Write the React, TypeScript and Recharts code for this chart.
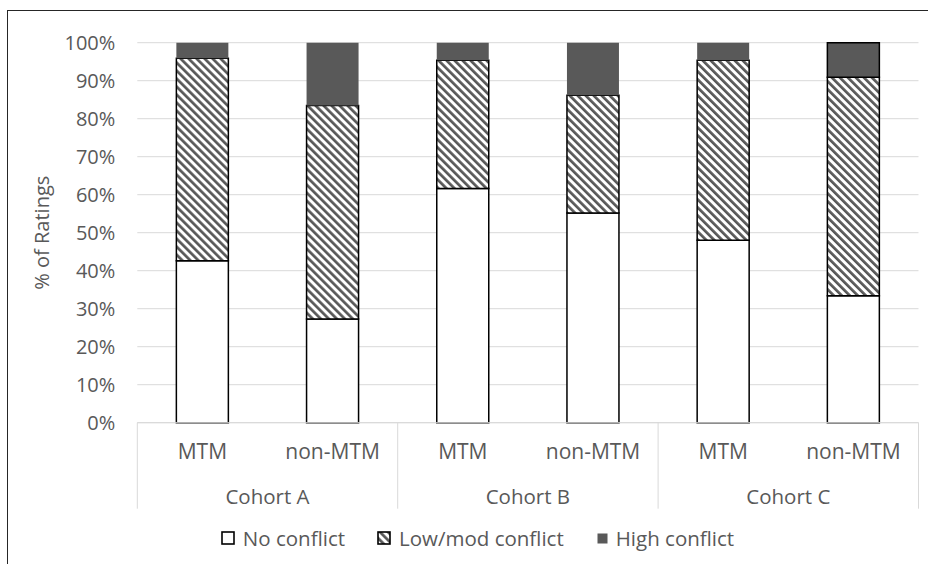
import { BarChart, Bar, XAxis, YAxis, CartesianGrid, Legend, Cell } from "recharts"

const cohorts = ["Cohort A", "Cohort A", "Cohort B", "Cohort B", "Cohort C", "Cohort C"]
const groups = ["MTM", "non-MTM", "MTM", "non-MTM", "MTM", "non-MTM"]
const noConflict = [42.6, 27.3, 61.6, 55.2, 48.0, 33.4]
const lowModConflict = [53.3, 56.2, 33.8, 31.0, 47.4, 57.5]
const highConflict = [4.1, 16.5, 4.6, 13.8, 4.6, 9.1]
const yTicks = [0, 10, 20, 30, 40, 50, 60, 70, 80, 90, 100]
const legendLabels = ["No conflict", "Low/mod conflict", "High conflict"]

const data = groups.map((group, i) => ({
  group,
  cohort: cohorts[i],
  none: noConflict[i],
  lowMod: lowModConflict[i],
  high: highConflict[i],
}))

const FONT = "'Open Sans', sans-serif"
const TEXT = "#595959"
const DARK = "#595959"
const GRID = "#d9d9d9"

// two-level category axis: group label, cohort label every second tick, separators between cohorts
function CategoryTick(props: any) {
  const { x, y, payload, index, visibleTicksCount } = props
  const half = payload?.offset ?? 65
  const isFirst = index % 2 === 0
  const isLast = index === visibleTicksCount - 1
  return (
    <g>
      <text x={x} y={y + 36.5} textAnchor="middle" fill={TEXT} fontSize={21} fontFamily={FONT}>
        {payload.value}
      </text>
      {isFirst && (
        <>
          <line x1={x - half} x2={x - half} y1={y} y2={y + 86} stroke={GRID} strokeWidth={1} />
          <text x={x + half} y={y + 81.5} textAnchor="middle" fill={TEXT} fontSize={20.5} fontFamily={FONT}>
            {data[index]?.cohort}
          </text>
        </>
      )}
      {isLast && <line x1={x + half} x2={x + half} y1={y} y2={y + 86} stroke={GRID} strokeWidth={1} />}
    </g>
  )
}

function Marker({ kind }: { kind: number }) {
  if (kind === 2) {
    return (
      <svg width={13} height={13} style={{ marginRight: 7 }}>
        <rect x={1.5} y={1.5} width={10} height={10} fill={DARK} />
      </svg>
    )
  }
  return (
    <svg width={14} height={14} style={{ marginRight: 8 }}>
      <rect x={1} y={1} width={12} height={12} fill={kind === 0 ? "#fff" : "url(#hatch)"} stroke="#000" strokeWidth={1.6} />
    </svg>
  )
}

function LegendContent() {
  return (
    <div
      style={{
        display: "flex",
        justifyContent: "center",
        alignItems: "center",
        height: 24,
        paddingLeft: 19,
        fontFamily: FONT,
        fontSize: 20.5,
        color: TEXT,
      }}
    >
      {legendLabels.map((label, i) => (
        <div key={label} style={{ display: "flex", alignItems: "center", marginLeft: i === 0 ? 0 : 32 }}>
          <Marker kind={i} />
          <span>{label}</span>
        </div>
      ))}
    </div>
  )
}

export default function App() {
  return (
    <>
      <div
        style={{
          position: "absolute",
          left: 7,
          top: 10,
          right: 0,
          bottom: 0,
          borderLeft: "1px solid #262626",
          borderTop: "1px solid #262626",
          pointerEvents: "none",
        }}
      />
      <BarChart
        width={920}
        height={556}
        data={data}
        margin={{ top: 34.7, right: 9.5, left: 0, bottom: 0 }}
        barCategoryGap="30%"
      >
        <defs>
          <pattern id="hatch" patternUnits="userSpaceOnUse" width={5.66} height={5.66} patternTransform="rotate(-45)">
            <rect width={5.66} height={5.66} fill="#fff" />
            <rect width={2.7} height={5.66} fill={DARK} />
          </pattern>
        </defs>
        <CartesianGrid vertical={false} stroke={GRID} strokeWidth={1} />
        <XAxis
          dataKey="group"
          interval={0}
          height={117.3}
          tickSize={0}
          tickMargin={0}
          tickLine={false}
          axisLine={{ stroke: GRID, strokeWidth: 1 }}
          tick={<CategoryTick />}
        />
        <YAxis
          width={129.3}
          domain={[0, 100]}
          ticks={yTicks}
          interval={0}
          tickFormatter={(v) => `${v}%`}
          axisLine={false}
          tickLine={false}
          tickSize={0}
          tickMargin={22}
          tick={{ fill: TEXT, fontSize: 20, fontFamily: FONT }}
          label={{
            content: ({ viewBox }: any) => {
              const cx = (viewBox?.x ?? 0) + 33.7
              const cy = (viewBox?.y ?? 0) + (viewBox?.height ?? 0) / 2
              return (
                <text
                  x={cx}
                  y={cy}
                  transform={`rotate(-90, ${cx}, ${cy})`}
                  textAnchor="middle"
                  dominantBaseline="central"
                  fill={TEXT}
                  fontSize={20}
                  fontFamily={FONT}
                >
                  % of Ratings
                </text>
              )
            },
          }}
        />
        <Legend
          verticalAlign="bottom"
          height={24}
          content={<LegendContent />}
          wrapperStyle={{ left: 0, width: 920, top: 518.3, bottom: "auto" }}
        />
        <Bar dataKey="none" stackId="s" fill="#fff" stroke="#000" strokeWidth={1.5} isAnimationActive={false} />
        <Bar dataKey="lowMod" stackId="s" fill="url(#hatch)" stroke="#000" strokeWidth={1.5} isAnimationActive={false} />
        <Bar dataKey="high" stackId="s" fill={DARK} isAnimationActive={false}>
          {data.map((_, i) => (
            <Cell key={`high-${i}`} stroke={i === data.length - 1 ? "#000" : "none"} strokeWidth={1.5} />
          ))}
        </Bar>
      </BarChart>
    </>
  )
}
